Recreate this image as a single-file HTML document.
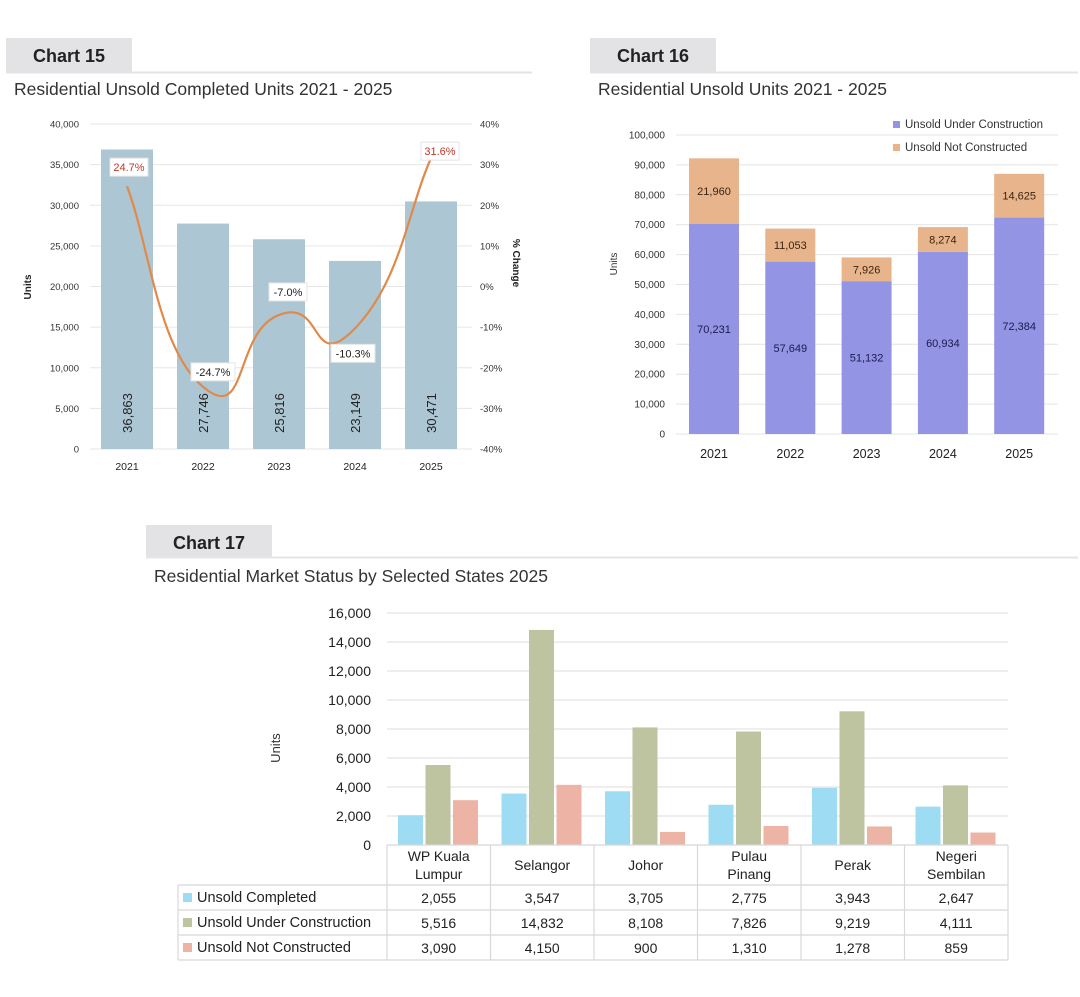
<!DOCTYPE html>
<html><head><meta charset="utf-8"><style>
body{margin:0;background:#fff;width:1080px;height:997px;overflow:hidden;font-family:"Liberation Sans",sans-serif}
svg{position:absolute;left:0;top:0}
</style></head><body>
<svg width="1080" height="997" viewBox="0 0 1080 997" id="s">
<g>
<rect x="6" y="38" width="126" height="34" fill="#e3e3e6"/>
<line x1="6" y1="72.5" x2="532" y2="72.5" stroke="#e4e4e4" stroke-width="2"/>
<text x="69" y="62" text-anchor="middle" font-size="18" font-weight="bold" fill="#222">Chart 15</text>
<text x="14" y="95" font-size="17.5" fill="#333">Residential Unsold Completed Units 2021 - 2025</text>
</g>
<g>
<rect x="590" y="38" width="126" height="34" fill="#e3e3e6"/>
<line x1="590" y1="72.5" x2="1078" y2="72.5" stroke="#e4e4e4" stroke-width="2"/>
<text x="653" y="62" text-anchor="middle" font-size="18" font-weight="bold" fill="#222">Chart 16</text>
<text x="598" y="95" font-size="17.5" fill="#333">Residential Unsold Units 2021 - 2025</text>
</g>
<g>
<rect x="146" y="525" width="126" height="32" fill="#e3e3e6"/>
<line x1="146" y1="557.5" x2="1078" y2="557.5" stroke="#e4e4e4" stroke-width="2"/>
<text x="209" y="549" text-anchor="middle" font-size="18" font-weight="bold" fill="#222">Chart 17</text>
<text x="154" y="582" font-size="17.5" fill="#333">Residential Market Status by Selected States 2025</text>
</g>
<g id="c15"></g>
<g id="c16"></g>
<g id="c17"></g>
</svg>
<script>
const years=['2021','2022','2023','2024','2025'];
const completedUnits=[36863,27746,25816,23149,30471];
const pctChange=[24.7,-24.7,-7.0,-10.3,31.6];
const unitTicks=[0,5000,10000,15000,20000,25000,30000,35000,40000];
const pctTicks=[-40,-30,-20,-10,0,10,20,30,40];
const underConstruction=[70231,57649,51132,60934,72384];
const notConstructed=[21960,11053,7926,8274,14625];
const ticks16=[0,10000,20000,30000,40000,50000,60000,70000,80000,90000,100000];
const states=[['WP Kuala','Lumpur'],['Selangor'],['Johor'],['Pulau','Pinang'],['Perak'],['Negeri','Sembilan']];
const series17=['Unsold Completed','Unsold Under Construction','Unsold Not Constructed'];
const sc17Completed=[2055,3547,3705,2775,3943,2647];
const sc17Under=[5516,14832,8108,7826,9219,4111];
const sc17NotCon=[3090,4150,900,1310,1278,859];
const ticks17=[0,2000,4000,6000,8000,10000,12000,14000,16000];

const NS='http://www.w3.org/2000/svg';
function mk(p,t,a,txt){const e=document.createElementNS(NS,t);for(const k in a)e.setAttribute(k,a[k]);if(txt!==undefined)e.textContent=txt;p.appendChild(e);return e;}
const fmt=v=>v.toLocaleString('en-US');

// Chart 15
(function(){
const g=document.getElementById('c15');
const y=v=>449-v/40000*325, yp=v=>449-(v+40)/80*325, x=i=>127+i*76;
unitTicks.forEach(t=>{
 const l=mk(g,'line',{x1:90,x2:472,y1:y(t),y2:y(t),stroke:'#e6e6e6','stroke-width':1});
 
 const tx=mk(g,'text',{x:79,y:y(t)+3.5,'text-anchor':'end','font-size':9.5,fill:'#333'},fmt(t));
 
});
pctTicks.forEach(t=>{
 const tx=mk(g,'text',{x:480,y:yp(t)+3.5,'font-size':9.5,fill:'#333'},t+'%');
 
});
let a=mk(g,'text',{x:0,y:0,'font-size':10,'font-weight':'bold',fill:'#222','text-anchor':'middle',transform:'translate(31,287) rotate(-90)'},'Units');

a=mk(g,'text',{x:0,y:0,'font-size':10,'font-weight':'bold',fill:'#222','text-anchor':'middle',transform:'translate(513,263) rotate(90)'},'% Change');

completedUnits.forEach((v,i)=>{
 const b=mk(g,'rect',{x:x(i)-26,y:y(v),width:52,height:449-y(v),fill:'#adc6d4'});
 
 const t=mk(g,'text',{x:0,y:0,'font-size':13,fill:'#222','text-anchor':'middle',transform:`translate(${x(i)+5},${413}) rotate(-90)`},fmt(v));
 
 const xl=mk(g,'text',{x:x(i),y:470,'font-size':10.5,fill:'#222','text-anchor':'middle'},years[i]);
 
});
const pts=pctChange.map((v,i)=>[x(i),yp(v)]);
let d='M'+pts[0].join(',');
for(let i=0;i<pts.length-1;i++){const p0=pts[Math.max(0,i-1)],p1=pts[i],p2=pts[i+1],p3=pts[Math.min(pts.length-1,i+2)];
 const k=0.3;d+=` C${p1[0]+(p2[0]-p0[0])*k},${p1[1]+(p2[1]-p0[1])*k} ${p2[0]-(p3[0]-p1[0])*k},${p2[1]-(p3[1]-p1[1])*k} ${p2[0]},${p2[1]}`;}
const ln=mk(g,'path',{d:d,fill:'none',stroke:'#e08a4a','stroke-width':2.2});

const off=[[2,-19],[10,-15],[9,-23],[-2,25],[9,-7]];
pctChange.forEach((v,i)=>{
 const lx=pts[i][0]+off[i][0], ly=pts[i][1]+off[i][1];
 const w=v<=-10?44:38;
 const r=mk(g,'rect',{x:lx-w/2,y:ly-9,width:w,height:18,fill:'#fff',stroke:'#e4e4e4','stroke-width':1});
 
 const t=mk(g,'text',{x:lx,y:ly+4,'font-size':11,'text-anchor':'middle',fill:v>0?'#c0392b':'#222'},v.toFixed(1)+'%');
 
});
})();

// Chart 16
(function(){
const g=document.getElementById('c16');
const y=v=>434-v/100000*299, x=i=>714+i*76.3;
ticks16.forEach(t=>{
 const l=mk(g,'line',{x1:676,x2:1058,y1:y(t),y2:y(t),stroke:'#e4e4e4','stroke-width':1});
 
 const tx=mk(g,'text',{x:665,y:y(t)+3.5,'text-anchor':'end','font-size':10,fill:'#333'},fmt(t));
 
});
const a=mk(g,'text',{x:0,y:0,'font-size':10,fill:'#333','text-anchor':'middle',transform:'translate(617,264) rotate(-90)'},'Units');

underConstruction.forEach((u,i)=>{
 const n=notConstructed[i];
 const b=mk(g,'rect',{x:x(i)-25,y:y(u),width:50,height:434-y(u),fill:'#9494e4'});
 
 const b2=mk(g,'rect',{x:x(i)-25,y:y(u+n),width:50,height:y(u)-y(u+n),fill:'#e8b48c'});
 
 const t=mk(g,'text',{x:x(i),y:y(u/2)+4,'font-size':11,'text-anchor':'middle',fill:'#1a1a50'},fmt(u));
 
 const t2=mk(g,'text',{x:x(i),y:y(u+n/2)+4,'font-size':11,'text-anchor':'middle',fill:'#3a2410'},fmt(n));
 
 const xl=mk(g,'text',{x:x(i),y:458,'font-size':12.5,fill:'#222','text-anchor':'middle'},years[i]);
 
});
[['Unsold Under Construction','#9494e4',127],['Unsold Not Constructed','#e8b48c',150]].forEach(L=>{
 const r=mk(g,'rect',{x:893,y:L[2]-6,width:7,height:7,fill:L[1]});
 const t=mk(g,'text',{x:905,y:L[2]+1,'font-size':11.5,fill:'#333'},L[0]);
});
})();

// Chart 17
(function(){
const g=document.getElementById('c17');
const y=v=>845-v/16000*232, col=i=>387+i*103.5;
const colors=['#9edcf4','#bec3a0','#edb4a6'];
const data=[sc17Completed,sc17Under,sc17NotCon];
ticks17.forEach(t=>{
 if(t>0){const l=mk(g,'line',{x1:387,x2:1008,y1:y(t),y2:y(t),stroke:'#e4e4e4','stroke-width':1.2});
 }
 const tx=mk(g,'text',{x:371,y:y(t)+5,'text-anchor':'end','font-size':14,fill:'#222'},fmt(t));
 
});
const a=mk(g,'text',{x:0,y:0,'font-size':13,fill:'#333','text-anchor':'middle',transform:'translate(280,748) rotate(-90)'},'Units');

data.forEach((arr,s)=>arr.forEach((v,i)=>{
 const b=mk(g,'rect',{x:col(i)+11+s*27.5,y:y(v),width:25,height:845-y(v),fill:colors[s]});
 
}));
const st={stroke:'#d8d8d8','stroke-width':1.2};
mk(g,'line',Object.assign({x1:387,x2:1008,y1:845,y2:845},st));
[885,910,935,960].forEach(yy=>mk(g,'line',Object.assign({x1:178,x2:1008,y1:yy,y2:yy},st)));
mk(g,'line',Object.assign({x1:178,x2:178,y1:885,y2:960},st));
for(let i=0;i<=6;i++)mk(g,'line',Object.assign({x1:col(i),x2:col(i),y1:845,y2:960},st));
states.forEach((s,i)=>{
 const cx=col(i)+51.7;
 s.forEach((ln,k)=>{const t=mk(g,'text',{x:cx,y:(s.length==1?870:861)+k*18,'font-size':14,'text-anchor':'middle',fill:'#222'},ln);
 });
});
series17.forEach((n,s)=>{
 const ry=885+s*25;
 const r=mk(g,'rect',{x:183,y:ry+8,width:9,height:9,fill:colors[s]});
 const t=mk(g,'text',{x:197,y:ry+17,'font-size':14.5,fill:'#222'},n);
 data[s].forEach((v,i)=>{const c=mk(g,'text',{x:col(i)+51.7,y:ry+18,'font-size':14,'text-anchor':'middle',fill:'#222'},fmt(v));
 });
});
})();
</script>
</body></html>
